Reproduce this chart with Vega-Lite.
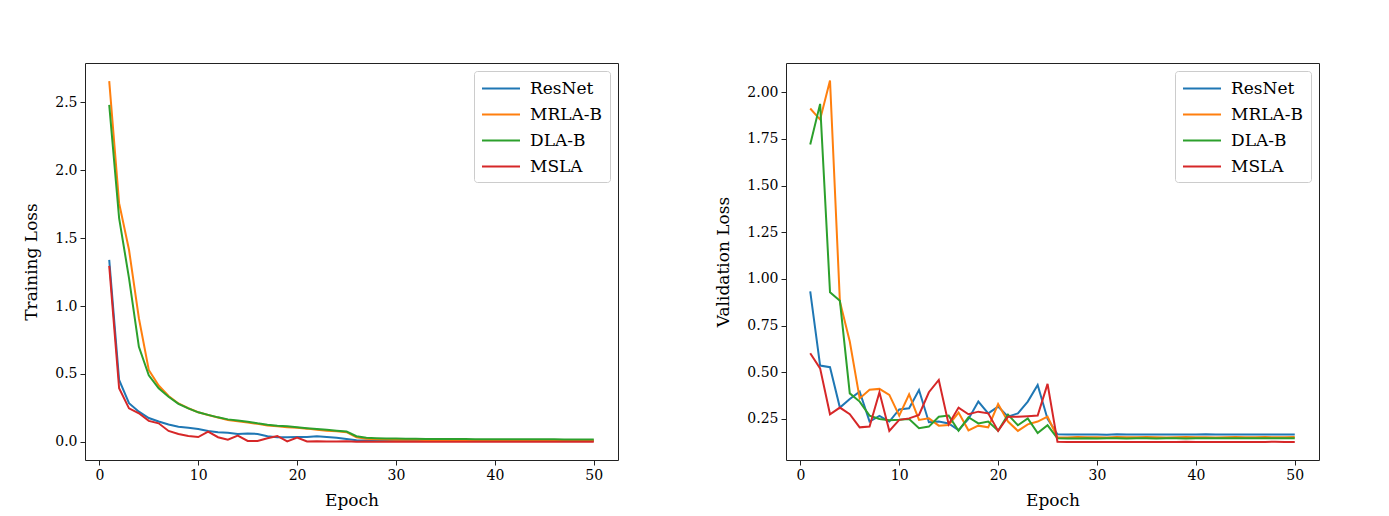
{
  "$schema": "https://vega.github.io/schema/vega-lite/v6.json",
  "background": "white",
  "padding": {"left": 22, "top": 62, "right": 10, "bottom": 5},
  "bounds": "flush",
  "spacing": 168,
  "config": {
    "font": "DejaVu Serif",
    "view": {"stroke": "#222", "strokeWidth": 1},
    "axis": {
      "domain": false,
      "grid": false,
      "ticks": true,
      "tickColor": "#222",
      "tickSize": 5,
      "labelFontSize": 14,
      "labelColor": "#000",
      "labelPadding": 3,
      "titleFontSize": 17,
      "titleFontWeight": "normal",
      "titleColor": "#000"
    },
    "axisX": {"titlePadding": 10},
    "axisY": {"titlePadding": 14},
    "legend": {
      "orient": "top-right",
      "offset": 8,
      "title": null,
      "fillColor": "rgba(255,255,255,0.85)",
      "strokeColor": "#cccccc",
      "cornerRadius": 3,
      "padding": 7,
      "symbolType": "M-2,0H2",
      "symbolSize": 361,
      "symbolStrokeWidth": 2,
      "symbolOffset": 9.5,
      "labelOffset": 18.5,
      "labelFontSize": 17,
      "labelColor": "#000",
      "rowPadding": 7
    }
  },
  "datasets": {
    "train": [
      {"epoch": 1, "model": "ResNet", "loss": 1.34},
      {"epoch": 2, "model": "ResNet", "loss": 0.456},
      {"epoch": 3, "model": "ResNet", "loss": 0.285},
      {"epoch": 4, "model": "ResNet", "loss": 0.223},
      {"epoch": 5, "model": "ResNet", "loss": 0.176},
      {"epoch": 6, "model": "ResNet", "loss": 0.15},
      {"epoch": 7, "model": "ResNet", "loss": 0.128},
      {"epoch": 8, "model": "ResNet", "loss": 0.112},
      {"epoch": 9, "model": "ResNet", "loss": 0.104},
      {"epoch": 10, "model": "ResNet", "loss": 0.096},
      {"epoch": 11, "model": "ResNet", "loss": 0.081},
      {"epoch": 12, "model": "ResNet", "loss": 0.071},
      {"epoch": 13, "model": "ResNet", "loss": 0.068},
      {"epoch": 14, "model": "ResNet", "loss": 0.059},
      {"epoch": 15, "model": "ResNet", "loss": 0.063},
      {"epoch": 16, "model": "ResNet", "loss": 0.059},
      {"epoch": 17, "model": "ResNet", "loss": 0.042},
      {"epoch": 18, "model": "ResNet", "loss": 0.034},
      {"epoch": 19, "model": "ResNet", "loss": 0.034},
      {"epoch": 20, "model": "ResNet", "loss": 0.037},
      {"epoch": 21, "model": "ResNet", "loss": 0.037},
      {"epoch": 22, "model": "ResNet", "loss": 0.042},
      {"epoch": 23, "model": "ResNet", "loss": 0.037},
      {"epoch": 24, "model": "ResNet", "loss": 0.031},
      {"epoch": 25, "model": "ResNet", "loss": 0.022},
      {"epoch": 26, "model": "ResNet", "loss": 0.012},
      {"epoch": 27, "model": "ResNet", "loss": 0.011},
      {"epoch": 28, "model": "ResNet", "loss": 0.010},
      {"epoch": 29, "model": "ResNet", "loss": 0.010},
      {"epoch": 30, "model": "ResNet", "loss": 0.009},
      {"epoch": 31, "model": "ResNet", "loss": 0.010},
      {"epoch": 32, "model": "ResNet", "loss": 0.009},
      {"epoch": 33, "model": "ResNet", "loss": 0.009},
      {"epoch": 34, "model": "ResNet", "loss": 0.010},
      {"epoch": 35, "model": "ResNet", "loss": 0.009},
      {"epoch": 36, "model": "ResNet", "loss": 0.008},
      {"epoch": 37, "model": "ResNet", "loss": 0.009},
      {"epoch": 38, "model": "ResNet", "loss": 0.009},
      {"epoch": 39, "model": "ResNet", "loss": 0.010},
      {"epoch": 40, "model": "ResNet", "loss": 0.009},
      {"epoch": 41, "model": "ResNet", "loss": 0.008},
      {"epoch": 42, "model": "ResNet", "loss": 0.009},
      {"epoch": 43, "model": "ResNet", "loss": 0.009},
      {"epoch": 44, "model": "ResNet", "loss": 0.008},
      {"epoch": 45, "model": "ResNet", "loss": 0.009},
      {"epoch": 46, "model": "ResNet", "loss": 0.008},
      {"epoch": 47, "model": "ResNet", "loss": 0.008},
      {"epoch": 48, "model": "ResNet", "loss": 0.009},
      {"epoch": 49, "model": "ResNet", "loss": 0.008},
      {"epoch": 50, "model": "ResNet", "loss": 0.008},
      {"epoch": 1, "model": "MRLA-B", "loss": 2.655},
      {"epoch": 2, "model": "MRLA-B", "loss": 1.757},
      {"epoch": 3, "model": "MRLA-B", "loss": 1.414},
      {"epoch": 4, "model": "MRLA-B", "loss": 0.91},
      {"epoch": 5, "model": "MRLA-B", "loss": 0.53},
      {"epoch": 6, "model": "MRLA-B", "loss": 0.415},
      {"epoch": 7, "model": "MRLA-B", "loss": 0.338},
      {"epoch": 8, "model": "MRLA-B", "loss": 0.283},
      {"epoch": 9, "model": "MRLA-B", "loss": 0.248},
      {"epoch": 10, "model": "MRLA-B", "loss": 0.219},
      {"epoch": 11, "model": "MRLA-B", "loss": 0.198},
      {"epoch": 12, "model": "MRLA-B", "loss": 0.18},
      {"epoch": 13, "model": "MRLA-B", "loss": 0.162},
      {"epoch": 14, "model": "MRLA-B", "loss": 0.152},
      {"epoch": 15, "model": "MRLA-B", "loss": 0.143},
      {"epoch": 16, "model": "MRLA-B", "loss": 0.133},
      {"epoch": 17, "model": "MRLA-B", "loss": 0.121},
      {"epoch": 18, "model": "MRLA-B", "loss": 0.115},
      {"epoch": 19, "model": "MRLA-B", "loss": 0.108},
      {"epoch": 20, "model": "MRLA-B", "loss": 0.104},
      {"epoch": 21, "model": "MRLA-B", "loss": 0.098},
      {"epoch": 22, "model": "MRLA-B", "loss": 0.09},
      {"epoch": 23, "model": "MRLA-B", "loss": 0.083},
      {"epoch": 24, "model": "MRLA-B", "loss": 0.078},
      {"epoch": 25, "model": "MRLA-B", "loss": 0.072},
      {"epoch": 26, "model": "MRLA-B", "loss": 0.035},
      {"epoch": 27, "model": "MRLA-B", "loss": 0.024},
      {"epoch": 28, "model": "MRLA-B", "loss": 0.020},
      {"epoch": 29, "model": "MRLA-B", "loss": 0.018},
      {"epoch": 30, "model": "MRLA-B", "loss": 0.017},
      {"epoch": 31, "model": "MRLA-B", "loss": 0.016},
      {"epoch": 32, "model": "MRLA-B", "loss": 0.016},
      {"epoch": 33, "model": "MRLA-B", "loss": 0.015},
      {"epoch": 34, "model": "MRLA-B", "loss": 0.015},
      {"epoch": 35, "model": "MRLA-B", "loss": 0.014},
      {"epoch": 36, "model": "MRLA-B", "loss": 0.014},
      {"epoch": 37, "model": "MRLA-B", "loss": 0.014},
      {"epoch": 38, "model": "MRLA-B", "loss": 0.013},
      {"epoch": 39, "model": "MRLA-B", "loss": 0.013},
      {"epoch": 40, "model": "MRLA-B", "loss": 0.013},
      {"epoch": 41, "model": "MRLA-B", "loss": 0.013},
      {"epoch": 42, "model": "MRLA-B", "loss": 0.012},
      {"epoch": 43, "model": "MRLA-B", "loss": 0.012},
      {"epoch": 44, "model": "MRLA-B", "loss": 0.012},
      {"epoch": 45, "model": "MRLA-B", "loss": 0.012},
      {"epoch": 46, "model": "MRLA-B", "loss": 0.012},
      {"epoch": 47, "model": "MRLA-B", "loss": 0.011},
      {"epoch": 48, "model": "MRLA-B", "loss": 0.011},
      {"epoch": 49, "model": "MRLA-B", "loss": 0.011},
      {"epoch": 50, "model": "MRLA-B", "loss": 0.011},
      {"epoch": 1, "model": "DLA-B", "loss": 2.48},
      {"epoch": 2, "model": "DLA-B", "loss": 1.647},
      {"epoch": 3, "model": "DLA-B", "loss": 1.205},
      {"epoch": 4, "model": "DLA-B", "loss": 0.70},
      {"epoch": 5, "model": "DLA-B", "loss": 0.49},
      {"epoch": 6, "model": "DLA-B", "loss": 0.395},
      {"epoch": 7, "model": "DLA-B", "loss": 0.333},
      {"epoch": 8, "model": "DLA-B", "loss": 0.28},
      {"epoch": 9, "model": "DLA-B", "loss": 0.247},
      {"epoch": 10, "model": "DLA-B", "loss": 0.218},
      {"epoch": 11, "model": "DLA-B", "loss": 0.199},
      {"epoch": 12, "model": "DLA-B", "loss": 0.181},
      {"epoch": 13, "model": "DLA-B", "loss": 0.166},
      {"epoch": 14, "model": "DLA-B", "loss": 0.157},
      {"epoch": 15, "model": "DLA-B", "loss": 0.149},
      {"epoch": 16, "model": "DLA-B", "loss": 0.137},
      {"epoch": 17, "model": "DLA-B", "loss": 0.127},
      {"epoch": 18, "model": "DLA-B", "loss": 0.12},
      {"epoch": 19, "model": "DLA-B", "loss": 0.115},
      {"epoch": 20, "model": "DLA-B", "loss": 0.108},
      {"epoch": 21, "model": "DLA-B", "loss": 0.101},
      {"epoch": 22, "model": "DLA-B", "loss": 0.095},
      {"epoch": 23, "model": "DLA-B", "loss": 0.089},
      {"epoch": 24, "model": "DLA-B", "loss": 0.083},
      {"epoch": 25, "model": "DLA-B", "loss": 0.077},
      {"epoch": 26, "model": "DLA-B", "loss": 0.042},
      {"epoch": 27, "model": "DLA-B", "loss": 0.031},
      {"epoch": 28, "model": "DLA-B", "loss": 0.028},
      {"epoch": 29, "model": "DLA-B", "loss": 0.026},
      {"epoch": 30, "model": "DLA-B", "loss": 0.025},
      {"epoch": 31, "model": "DLA-B", "loss": 0.024},
      {"epoch": 32, "model": "DLA-B", "loss": 0.023},
      {"epoch": 33, "model": "DLA-B", "loss": 0.022},
      {"epoch": 34, "model": "DLA-B", "loss": 0.022},
      {"epoch": 35, "model": "DLA-B", "loss": 0.021},
      {"epoch": 36, "model": "DLA-B", "loss": 0.021},
      {"epoch": 37, "model": "DLA-B", "loss": 0.021},
      {"epoch": 38, "model": "DLA-B", "loss": 0.020},
      {"epoch": 39, "model": "DLA-B", "loss": 0.020},
      {"epoch": 40, "model": "DLA-B", "loss": 0.020},
      {"epoch": 41, "model": "DLA-B", "loss": 0.020},
      {"epoch": 42, "model": "DLA-B", "loss": 0.019},
      {"epoch": 43, "model": "DLA-B", "loss": 0.019},
      {"epoch": 44, "model": "DLA-B", "loss": 0.019},
      {"epoch": 45, "model": "DLA-B", "loss": 0.019},
      {"epoch": 46, "model": "DLA-B", "loss": 0.019},
      {"epoch": 47, "model": "DLA-B", "loss": 0.018},
      {"epoch": 48, "model": "DLA-B", "loss": 0.018},
      {"epoch": 49, "model": "DLA-B", "loss": 0.018},
      {"epoch": 50, "model": "DLA-B", "loss": 0.018},
      {"epoch": 1, "model": "MSLA", "loss": 1.296},
      {"epoch": 2, "model": "MSLA", "loss": 0.395},
      {"epoch": 3, "model": "MSLA", "loss": 0.247},
      {"epoch": 4, "model": "MSLA", "loss": 0.211},
      {"epoch": 5, "model": "MSLA", "loss": 0.155},
      {"epoch": 6, "model": "MSLA", "loss": 0.137},
      {"epoch": 7, "model": "MSLA", "loss": 0.081},
      {"epoch": 8, "model": "MSLA", "loss": 0.059},
      {"epoch": 9, "model": "MSLA", "loss": 0.044},
      {"epoch": 10, "model": "MSLA", "loss": 0.036},
      {"epoch": 11, "model": "MSLA", "loss": 0.076},
      {"epoch": 12, "model": "MSLA", "loss": 0.035},
      {"epoch": 13, "model": "MSLA", "loss": 0.016},
      {"epoch": 14, "model": "MSLA", "loss": 0.046},
      {"epoch": 15, "model": "MSLA", "loss": 0.007},
      {"epoch": 16, "model": "MSLA", "loss": 0.007},
      {"epoch": 17, "model": "MSLA", "loss": 0.027},
      {"epoch": 18, "model": "MSLA", "loss": 0.044},
      {"epoch": 19, "model": "MSLA", "loss": 0.004},
      {"epoch": 20, "model": "MSLA", "loss": 0.032},
      {"epoch": 21, "model": "MSLA", "loss": 0.003},
      {"epoch": 22, "model": "MSLA", "loss": 0.005},
      {"epoch": 23, "model": "MSLA", "loss": 0.004},
      {"epoch": 24, "model": "MSLA", "loss": 0.004},
      {"epoch": 25, "model": "MSLA", "loss": 0.005},
      {"epoch": 26, "model": "MSLA", "loss": 0.002},
      {"epoch": 27, "model": "MSLA", "loss": 0.003},
      {"epoch": 28, "model": "MSLA", "loss": 0.002},
      {"epoch": 29, "model": "MSLA", "loss": 0.002},
      {"epoch": 30, "model": "MSLA", "loss": 0.002},
      {"epoch": 31, "model": "MSLA", "loss": 0.002},
      {"epoch": 32, "model": "MSLA", "loss": 0.002},
      {"epoch": 33, "model": "MSLA", "loss": 0.001},
      {"epoch": 34, "model": "MSLA", "loss": 0.002},
      {"epoch": 35, "model": "MSLA", "loss": 0.001},
      {"epoch": 36, "model": "MSLA", "loss": 0.001},
      {"epoch": 37, "model": "MSLA", "loss": 0.002},
      {"epoch": 38, "model": "MSLA", "loss": 0.001},
      {"epoch": 39, "model": "MSLA", "loss": 0.001},
      {"epoch": 40, "model": "MSLA", "loss": 0.001},
      {"epoch": 41, "model": "MSLA", "loss": 0.001},
      {"epoch": 42, "model": "MSLA", "loss": 0.001},
      {"epoch": 43, "model": "MSLA", "loss": 0.001},
      {"epoch": 44, "model": "MSLA", "loss": 0.001},
      {"epoch": 45, "model": "MSLA", "loss": 0.001},
      {"epoch": 46, "model": "MSLA", "loss": 0.001},
      {"epoch": 47, "model": "MSLA", "loss": 0.001},
      {"epoch": 48, "model": "MSLA", "loss": 0.001},
      {"epoch": 49, "model": "MSLA", "loss": 0.001},
      {"epoch": 50, "model": "MSLA", "loss": 0.001}
    ],
    "val": [
      {"epoch": 1, "model": "ResNet", "loss": 0.933},
      {"epoch": 2, "model": "ResNet", "loss": 0.536},
      {"epoch": 3, "model": "ResNet", "loss": 0.527},
      {"epoch": 4, "model": "ResNet", "loss": 0.311},
      {"epoch": 5, "model": "ResNet", "loss": 0.357},
      {"epoch": 6, "model": "ResNet", "loss": 0.396},
      {"epoch": 7, "model": "ResNet", "loss": 0.236},
      {"epoch": 8, "model": "ResNet", "loss": 0.266},
      {"epoch": 9, "model": "ResNet", "loss": 0.236},
      {"epoch": 10, "model": "ResNet", "loss": 0.301},
      {"epoch": 11, "model": "ResNet", "loss": 0.307},
      {"epoch": 12, "model": "ResNet", "loss": 0.405},
      {"epoch": 13, "model": "ResNet", "loss": 0.232},
      {"epoch": 14, "model": "ResNet", "loss": 0.236},
      {"epoch": 15, "model": "ResNet", "loss": 0.226},
      {"epoch": 16, "model": "ResNet", "loss": 0.19},
      {"epoch": 17, "model": "ResNet", "loss": 0.25},
      {"epoch": 18, "model": "ResNet", "loss": 0.343},
      {"epoch": 19, "model": "ResNet", "loss": 0.28},
      {"epoch": 20, "model": "ResNet", "loss": 0.316},
      {"epoch": 21, "model": "ResNet", "loss": 0.262},
      {"epoch": 22, "model": "ResNet", "loss": 0.28},
      {"epoch": 23, "model": "ResNet", "loss": 0.343},
      {"epoch": 24, "model": "ResNet", "loss": 0.432},
      {"epoch": 25, "model": "ResNet", "loss": 0.25},
      {"epoch": 26, "model": "ResNet", "loss": 0.168},
      {"epoch": 27, "model": "ResNet", "loss": 0.167},
      {"epoch": 28, "model": "ResNet", "loss": 0.167},
      {"epoch": 29, "model": "ResNet", "loss": 0.166},
      {"epoch": 30, "model": "ResNet", "loss": 0.167},
      {"epoch": 31, "model": "ResNet", "loss": 0.165},
      {"epoch": 32, "model": "ResNet", "loss": 0.168},
      {"epoch": 33, "model": "ResNet", "loss": 0.166},
      {"epoch": 34, "model": "ResNet", "loss": 0.167},
      {"epoch": 35, "model": "ResNet", "loss": 0.166},
      {"epoch": 36, "model": "ResNet", "loss": 0.167},
      {"epoch": 37, "model": "ResNet", "loss": 0.166},
      {"epoch": 38, "model": "ResNet", "loss": 0.166},
      {"epoch": 39, "model": "ResNet", "loss": 0.167},
      {"epoch": 40, "model": "ResNet", "loss": 0.166},
      {"epoch": 41, "model": "ResNet", "loss": 0.168},
      {"epoch": 42, "model": "ResNet", "loss": 0.167},
      {"epoch": 43, "model": "ResNet", "loss": 0.167},
      {"epoch": 44, "model": "ResNet", "loss": 0.166},
      {"epoch": 45, "model": "ResNet", "loss": 0.167},
      {"epoch": 46, "model": "ResNet", "loss": 0.167},
      {"epoch": 47, "model": "ResNet", "loss": 0.166},
      {"epoch": 48, "model": "ResNet", "loss": 0.167},
      {"epoch": 49, "model": "ResNet", "loss": 0.166},
      {"epoch": 50, "model": "ResNet", "loss": 0.166},
      {"epoch": 1, "model": "MRLA-B", "loss": 1.913},
      {"epoch": 2, "model": "MRLA-B", "loss": 1.854},
      {"epoch": 3, "model": "MRLA-B", "loss": 2.063},
      {"epoch": 4, "model": "MRLA-B", "loss": 0.879},
      {"epoch": 5, "model": "MRLA-B", "loss": 0.665},
      {"epoch": 6, "model": "MRLA-B", "loss": 0.36},
      {"epoch": 7, "model": "MRLA-B", "loss": 0.406},
      {"epoch": 8, "model": "MRLA-B", "loss": 0.411},
      {"epoch": 9, "model": "MRLA-B", "loss": 0.379},
      {"epoch": 10, "model": "MRLA-B", "loss": 0.268},
      {"epoch": 11, "model": "MRLA-B", "loss": 0.382},
      {"epoch": 12, "model": "MRLA-B", "loss": 0.245},
      {"epoch": 13, "model": "MRLA-B", "loss": 0.253},
      {"epoch": 14, "model": "MRLA-B", "loss": 0.214},
      {"epoch": 15, "model": "MRLA-B", "loss": 0.217},
      {"epoch": 16, "model": "MRLA-B", "loss": 0.284},
      {"epoch": 17, "model": "MRLA-B", "loss": 0.189},
      {"epoch": 18, "model": "MRLA-B", "loss": 0.214},
      {"epoch": 19, "model": "MRLA-B", "loss": 0.205},
      {"epoch": 20, "model": "MRLA-B", "loss": 0.33},
      {"epoch": 21, "model": "MRLA-B", "loss": 0.236},
      {"epoch": 22, "model": "MRLA-B", "loss": 0.186},
      {"epoch": 23, "model": "MRLA-B", "loss": 0.221},
      {"epoch": 24, "model": "MRLA-B", "loss": 0.236},
      {"epoch": 25, "model": "MRLA-B", "loss": 0.262},
      {"epoch": 26, "model": "MRLA-B", "loss": 0.152},
      {"epoch": 27, "model": "MRLA-B", "loss": 0.151},
      {"epoch": 28, "model": "MRLA-B", "loss": 0.153},
      {"epoch": 29, "model": "MRLA-B", "loss": 0.152},
      {"epoch": 30, "model": "MRLA-B", "loss": 0.152},
      {"epoch": 31, "model": "MRLA-B", "loss": 0.151},
      {"epoch": 32, "model": "MRLA-B", "loss": 0.153},
      {"epoch": 33, "model": "MRLA-B", "loss": 0.152},
      {"epoch": 34, "model": "MRLA-B", "loss": 0.152},
      {"epoch": 35, "model": "MRLA-B", "loss": 0.153},
      {"epoch": 36, "model": "MRLA-B", "loss": 0.152},
      {"epoch": 37, "model": "MRLA-B", "loss": 0.151},
      {"epoch": 38, "model": "MRLA-B", "loss": 0.152},
      {"epoch": 39, "model": "MRLA-B", "loss": 0.153},
      {"epoch": 40, "model": "MRLA-B", "loss": 0.152},
      {"epoch": 41, "model": "MRLA-B", "loss": 0.152},
      {"epoch": 42, "model": "MRLA-B", "loss": 0.151},
      {"epoch": 43, "model": "MRLA-B", "loss": 0.152},
      {"epoch": 44, "model": "MRLA-B", "loss": 0.153},
      {"epoch": 45, "model": "MRLA-B", "loss": 0.152},
      {"epoch": 46, "model": "MRLA-B", "loss": 0.152},
      {"epoch": 47, "model": "MRLA-B", "loss": 0.153},
      {"epoch": 48, "model": "MRLA-B", "loss": 0.152},
      {"epoch": 49, "model": "MRLA-B", "loss": 0.152},
      {"epoch": 50, "model": "MRLA-B", "loss": 0.153},
      {"epoch": 1, "model": "DLA-B", "loss": 1.72},
      {"epoch": 2, "model": "DLA-B", "loss": 1.938},
      {"epoch": 3, "model": "DLA-B", "loss": 0.929},
      {"epoch": 4, "model": "DLA-B", "loss": 0.883},
      {"epoch": 5, "model": "DLA-B", "loss": 0.387},
      {"epoch": 6, "model": "DLA-B", "loss": 0.343},
      {"epoch": 7, "model": "DLA-B", "loss": 0.268},
      {"epoch": 8, "model": "DLA-B", "loss": 0.25},
      {"epoch": 9, "model": "DLA-B", "loss": 0.243},
      {"epoch": 10, "model": "DLA-B", "loss": 0.245},
      {"epoch": 11, "model": "DLA-B", "loss": 0.249},
      {"epoch": 12, "model": "DLA-B", "loss": 0.2},
      {"epoch": 13, "model": "DLA-B", "loss": 0.209},
      {"epoch": 14, "model": "DLA-B", "loss": 0.262},
      {"epoch": 15, "model": "DLA-B", "loss": 0.268},
      {"epoch": 16, "model": "DLA-B", "loss": 0.187},
      {"epoch": 17, "model": "DLA-B", "loss": 0.259},
      {"epoch": 18, "model": "DLA-B", "loss": 0.226},
      {"epoch": 19, "model": "DLA-B", "loss": 0.236},
      {"epoch": 20, "model": "DLA-B", "loss": 0.187},
      {"epoch": 21, "model": "DLA-B", "loss": 0.273},
      {"epoch": 22, "model": "DLA-B", "loss": 0.216},
      {"epoch": 23, "model": "DLA-B", "loss": 0.253},
      {"epoch": 24, "model": "DLA-B", "loss": 0.174},
      {"epoch": 25, "model": "DLA-B", "loss": 0.216},
      {"epoch": 26, "model": "DLA-B", "loss": 0.146},
      {"epoch": 27, "model": "DLA-B", "loss": 0.145},
      {"epoch": 28, "model": "DLA-B", "loss": 0.145},
      {"epoch": 29, "model": "DLA-B", "loss": 0.146},
      {"epoch": 30, "model": "DLA-B", "loss": 0.145},
      {"epoch": 31, "model": "DLA-B", "loss": 0.146},
      {"epoch": 32, "model": "DLA-B", "loss": 0.146},
      {"epoch": 33, "model": "DLA-B", "loss": 0.145},
      {"epoch": 34, "model": "DLA-B", "loss": 0.146},
      {"epoch": 35, "model": "DLA-B", "loss": 0.146},
      {"epoch": 36, "model": "DLA-B", "loss": 0.145},
      {"epoch": 37, "model": "DLA-B", "loss": 0.146},
      {"epoch": 38, "model": "DLA-B", "loss": 0.146},
      {"epoch": 39, "model": "DLA-B", "loss": 0.145},
      {"epoch": 40, "model": "DLA-B", "loss": 0.146},
      {"epoch": 41, "model": "DLA-B", "loss": 0.146},
      {"epoch": 42, "model": "DLA-B", "loss": 0.146},
      {"epoch": 43, "model": "DLA-B", "loss": 0.147},
      {"epoch": 44, "model": "DLA-B", "loss": 0.146},
      {"epoch": 45, "model": "DLA-B", "loss": 0.146},
      {"epoch": 46, "model": "DLA-B", "loss": 0.146},
      {"epoch": 47, "model": "DLA-B", "loss": 0.147},
      {"epoch": 48, "model": "DLA-B", "loss": 0.146},
      {"epoch": 49, "model": "DLA-B", "loss": 0.146},
      {"epoch": 50, "model": "DLA-B", "loss": 0.147},
      {"epoch": 1, "model": "MSLA", "loss": 0.602},
      {"epoch": 2, "model": "MSLA", "loss": 0.521},
      {"epoch": 3, "model": "MSLA", "loss": 0.275},
      {"epoch": 4, "model": "MSLA", "loss": 0.311},
      {"epoch": 5, "model": "MSLA", "loss": 0.275},
      {"epoch": 6, "model": "MSLA", "loss": 0.205},
      {"epoch": 7, "model": "MSLA", "loss": 0.209},
      {"epoch": 8, "model": "MSLA", "loss": 0.393},
      {"epoch": 9, "model": "MSLA", "loss": 0.186},
      {"epoch": 10, "model": "MSLA", "loss": 0.245},
      {"epoch": 11, "model": "MSLA", "loss": 0.253},
      {"epoch": 12, "model": "MSLA", "loss": 0.271},
      {"epoch": 13, "model": "MSLA", "loss": 0.393},
      {"epoch": 14, "model": "MSLA", "loss": 0.459},
      {"epoch": 15, "model": "MSLA", "loss": 0.221},
      {"epoch": 16, "model": "MSLA", "loss": 0.311},
      {"epoch": 17, "model": "MSLA", "loss": 0.275},
      {"epoch": 18, "model": "MSLA", "loss": 0.289},
      {"epoch": 19, "model": "MSLA", "loss": 0.28},
      {"epoch": 20, "model": "MSLA", "loss": 0.186},
      {"epoch": 21, "model": "MSLA", "loss": 0.262},
      {"epoch": 22, "model": "MSLA", "loss": 0.262},
      {"epoch": 23, "model": "MSLA", "loss": 0.265},
      {"epoch": 24, "model": "MSLA", "loss": 0.268},
      {"epoch": 25, "model": "MSLA", "loss": 0.438},
      {"epoch": 26, "model": "MSLA", "loss": 0.128},
      {"epoch": 27, "model": "MSLA", "loss": 0.127},
      {"epoch": 28, "model": "MSLA", "loss": 0.127},
      {"epoch": 29, "model": "MSLA", "loss": 0.126},
      {"epoch": 30, "model": "MSLA", "loss": 0.127},
      {"epoch": 31, "model": "MSLA", "loss": 0.127},
      {"epoch": 32, "model": "MSLA", "loss": 0.126},
      {"epoch": 33, "model": "MSLA", "loss": 0.127},
      {"epoch": 34, "model": "MSLA", "loss": 0.127},
      {"epoch": 35, "model": "MSLA", "loss": 0.127},
      {"epoch": 36, "model": "MSLA", "loss": 0.126},
      {"epoch": 37, "model": "MSLA", "loss": 0.127},
      {"epoch": 38, "model": "MSLA", "loss": 0.127},
      {"epoch": 39, "model": "MSLA", "loss": 0.128},
      {"epoch": 40, "model": "MSLA", "loss": 0.127},
      {"epoch": 41, "model": "MSLA", "loss": 0.127},
      {"epoch": 42, "model": "MSLA", "loss": 0.127},
      {"epoch": 43, "model": "MSLA", "loss": 0.126},
      {"epoch": 44, "model": "MSLA", "loss": 0.127},
      {"epoch": 45, "model": "MSLA", "loss": 0.127},
      {"epoch": 46, "model": "MSLA", "loss": 0.127},
      {"epoch": 47, "model": "MSLA", "loss": 0.127},
      {"epoch": 48, "model": "MSLA", "loss": 0.128},
      {"epoch": 49, "model": "MSLA", "loss": 0.127},
      {"epoch": 50, "model": "MSLA", "loss": 0.127}
    ]
  },
  "hconcat": [
    {
      "width": 533,
      "height": 397,
      "data": {"name": "train"},
      "mark": {"type": "line", "strokeWidth": 2},
      "encoding": {
        "x": {
          "field": "epoch",
          "type": "quantitative",
          "scale": {"domain": [-1.45, 52.45], "nice": false, "zero": false},
          "axis": {"values": [0, 10, 20, 30, 40, 50], "format": "d", "title": "Epoch"}
        },
        "y": {
          "field": "loss",
          "type": "quantitative",
          "scale": {"domain": [-0.1328, 2.788], "nice": false, "zero": false},
          "axis": {"values": [0, 0.5, 1, 1.5, 2, 2.5], "format": ".1f", "title": "Training Loss"}
        },
        "color": {
          "field": "model",
          "type": "nominal",
          "scale": {
            "domain": ["ResNet", "MRLA-B", "DLA-B", "MSLA"],
            "range": ["#1f77b4", "#ff7f0e", "#2ca02c", "#d62728"]
          }
        }
      }
    },
    {
      "width": 533,
      "height": 397,
      "data": {"name": "val"},
      "mark": {"type": "line", "strokeWidth": 2},
      "encoding": {
        "x": {
          "field": "epoch",
          "type": "quantitative",
          "scale": {"domain": [-1.45, 52.45], "nice": false, "zero": false},
          "axis": {"values": [0, 10, 20, 30, 40, 50], "format": "d", "title": "Epoch"}
        },
        "y": {
          "field": "loss",
          "type": "quantitative",
          "scale": {"domain": [0.03, 2.157], "nice": false, "zero": false},
          "axis": {"values": [0.25, 0.5, 0.75, 1, 1.25, 1.5, 1.75, 2], "format": ".2f", "title": "Validation Loss"}
        },
        "color": {
          "field": "model",
          "type": "nominal",
          "scale": {
            "domain": ["ResNet", "MRLA-B", "DLA-B", "MSLA"],
            "range": ["#1f77b4", "#ff7f0e", "#2ca02c", "#d62728"]
          }
        }
      }
    }
  ],
  "resolve": {"scale": {"color": "independent"}}
}
